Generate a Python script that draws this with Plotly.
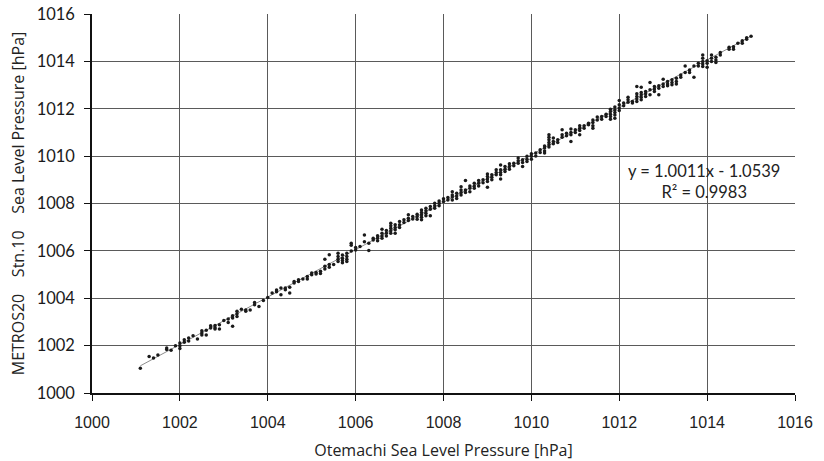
import plotly.graph_objects as go

# Otemachi pressure (x, hPa) for each column of observations
otemachi_hpa = [
    1001.1, 1001.3, 1001.4, 1001.5, 1001.7, 1001.8, 1001.9, 1002.0, 1002.1, 1002.2,
    1002.3, 1002.4, 1002.5, 1002.6, 1002.7, 1002.8, 1002.9, 1003.0, 1003.1, 1003.2,
    1003.3, 1003.4, 1003.5, 1003.6, 1003.7, 1003.8, 1003.9, 1004.0, 1004.1, 1004.2,
    1004.3, 1004.4, 1004.5, 1004.6, 1004.7, 1004.8, 1004.9, 1005.0, 1005.1, 1005.2,
    1005.3, 1005.4, 1005.5, 1005.6, 1005.7, 1005.8, 1005.9, 1006.0, 1006.1, 1006.2,
    1006.3, 1006.4, 1006.5, 1006.6, 1006.7, 1006.8, 1006.9, 1007.0, 1007.1, 1007.2,
    1007.3, 1007.4, 1007.5, 1007.6, 1007.7, 1007.8, 1007.9, 1008.0, 1008.1, 1008.2,
    1008.3, 1008.4, 1008.5, 1008.6, 1008.7, 1008.8, 1008.9, 1009.0, 1009.1, 1009.2,
    1009.3, 1009.4, 1009.5, 1009.6, 1009.7, 1009.8, 1009.9, 1010.0, 1010.1, 1010.2,
    1010.3, 1010.4, 1010.5, 1010.6, 1010.7, 1010.8, 1010.9, 1011.0, 1011.1, 1011.2,
    1011.3, 1011.4, 1011.5, 1011.6, 1011.7, 1011.8, 1011.9, 1012.0, 1012.1, 1012.2,
    1012.3, 1012.4, 1012.5, 1012.6, 1012.7, 1012.8, 1012.9, 1013.0, 1013.1, 1013.2,
    1013.3, 1013.4, 1013.5, 1013.6, 1013.7, 1013.8, 1013.9, 1014.0, 1014.1, 1014.2,
    1014.3, 1014.5, 1014.6, 1014.7, 1014.8, 1014.9, 1015.0,
]

# METROS20 Stn.10 pressure (y, hPa) observed at each Otemachi value above
metros_hpa = [
    [1001.05], [1001.54], [1001.48], [1001.60], [1001.90, 1001.84], [1001.81], [1002.00],
    [1002.11, 1002.00, 1001.88], [1002.25, 1002.14], [1002.32, 1002.20],
    [1002.42], [1002.28], [1002.63, 1002.53, 1002.45], [1002.65, 1002.45], [1002.84, 1002.74],
    [1002.85, 1002.75, 1002.70], [1002.88, 1002.70], [1003.06], [1003.12, 1002.98],
    [1003.26, 1003.17, 1002.82],
    [1003.45, 1003.35, 1003.23], [1003.54], [1003.50, 1003.45], [1003.50], [1003.82, 1003.73],
    [1003.65], [1003.91], [1004.03], [1004.22], [1004.35, 1004.27],
    [1004.43, 1004.15], [1004.43, 1004.36], [1004.46, 1004.22], [1004.71, 1004.64],
    [1004.78, 1004.71], [1004.81], [1004.92, 1004.81], [1005.07, 1004.99], [1005.09, 1005.02],
    [1005.14, 1005.04],
    [1005.65, 1005.35, 1005.24], [1005.84, 1005.42, 1005.31], [1005.42],
    [1005.90, 1005.76, 1005.65, 1005.55], [1005.83, 1005.69, 1005.59, 1005.50],
    [1005.90, 1005.76, 1005.65, 1005.55], [1006.32, 1006.24, 1006.00], [1006.14, 1006.04],
    [1006.18], [1006.67, 1006.39],
    [1006.32, 1006.02], [1006.53, 1006.46], [1006.64, 1006.53, 1006.43],
    [1006.91, 1006.74, 1006.63, 1006.53], [1006.86, 1006.74, 1006.63],
    [1007.17, 1007.06, 1006.96, 1006.85, 1006.74], [1007.10, 1006.99, 1006.89, 1006.74],
    [1007.24, 1007.10, 1006.99], [1007.31, 1007.20], [1007.52, 1007.38, 1007.28],
    [1007.45, 1007.35], [1007.55, 1007.45, 1007.34], [1007.73, 1007.62, 1007.52, 1007.42, 1007.31],
    [1007.80, 1007.69, 1007.59, 1007.48], [1007.87, 1007.76, 1007.48],
    [1008.01, 1007.90, 1007.80], [1008.11, 1008.01, 1007.90], [1008.20, 1008.08],
    [1008.25, 1008.15], [1008.50, 1008.36, 1008.27, 1008.15],
    [1008.43, 1008.32, 1008.21], [1008.71, 1008.57, 1008.46, 1008.36], [1008.97, 1008.57, 1008.46],
    [1008.74, 1008.64, 1008.50], [1008.85, 1008.74, 1008.64], [1008.97, 1008.86, 1008.74],
    [1009.00, 1008.88], [1009.25, 1009.14, 1009.03, 1008.93, 1008.69], [1009.21, 1009.11, 1009.00],
    [1009.42, 1009.31, 1009.21],
    [1009.63, 1009.42, 1009.31, 1009.21, 1009.03], [1009.56, 1009.45, 1009.35],
    [1009.68, 1009.56, 1009.45], [1009.70, 1009.59], [1009.92, 1009.81, 1009.70],
    [1009.85, 1009.73, 1009.56], [1009.99, 1009.87, 1009.77], [1010.10, 1009.99, 1009.87],
    [1010.13, 1010.01], [1010.27, 1010.15],
    [1010.43, 1010.34, 1010.22, 1010.13], [1010.90, 1010.80, 1010.69, 1010.58, 1010.48, 1010.38],
    [1010.76, 1010.62, 1010.52], [1010.69, 1010.58], [1011.11, 1010.90, 1010.80],
    [1010.97, 1010.86], [1011.14, 1011.00, 1010.90, 1010.62], [1011.11, 1011.00],
    [1011.28, 1011.18, 1011.08, 1010.90], [1011.28, 1011.18],
    [1011.39, 1011.32], [1011.53, 1011.42, 1011.28, 1011.18], [1011.65, 1011.53],
    [1011.67, 1011.56], [1011.77, 1011.67], [1011.98, 1011.88, 1011.77, 1011.67, 1011.56],
    [1012.07, 1011.95, 1011.84, 1011.74, 1011.60], [1012.35, 1012.17, 1012.03, 1011.93],
    [1012.24, 1012.13], [1012.49, 1012.38, 1012.27],
    [1012.31, 1012.24], [1012.94, 1012.63, 1012.52, 1012.41, 1012.31],
    [1012.91, 1012.69, 1012.59, 1012.49, 1012.38], [1012.73, 1012.63, 1012.52],
    [1013.11, 1012.80, 1012.59], [1012.94, 1012.83, 1012.73], [1012.97, 1012.87, 1012.59],
    [1013.25, 1013.05, 1012.94], [1013.15, 1013.05, 1012.97], [1013.22, 1013.11, 1013.01],
    [1013.29, 1013.15, 1013.05], [1013.43, 1013.33], [1013.81, 1013.53], [1013.64, 1013.53],
    [1013.81, 1013.33], [1013.92, 1013.81], [1014.27, 1014.13, 1013.99, 1013.89, 1013.78],
    [1014.03, 1013.92, 1013.75], [1014.27, 1014.13, 1013.99], [1014.17, 1014.06, 1013.95],
    [1014.37, 1014.27], [1014.60, 1014.51], [1014.62, 1014.51], [1014.76],
    [1014.87, 1014.76], [1015.00, 1014.93], [1015.06],
]

# Linear trendline reported on the chart
trend_slope = 1.0011
trend_intercept = -1.0539
trend_r2 = 0.9983

tick_values = [1000, 1002, 1004, 1006, 1008, 1010, 1012, 1014, 1016]

xs, ys = [], []
for xv, col in zip(otemachi_hpa, metros_hpa):
    for yv in col:
        xs.append(xv)
        ys.append(yv)

tx = [min(xs), max(xs)]
ty = [trend_slope * v + trend_intercept for v in tx]

fig = go.Figure()
fig.add_trace(go.Scatter(
    x=tx, y=ty, mode="lines",
    line=dict(color="#8c8c8c", width=1),
    showlegend=False, hoverinfo="skip",
))
fig.add_trace(go.Scatter(
    x=xs, y=ys, mode="markers",
    marker=dict(color="#1a1a1a", size=3.5, symbol="circle"),
    showlegend=False,
))

fig.add_annotation(
    x=1013.93, y=1008.92, xref="x", yref="y",
    text=f"y = {trend_slope}x - {abs(trend_intercept)}<br>R² = {trend_r2}",
    showarrow=False, align="center",
    font=dict(family="Lato", size=16.5, color="#222"),
)

axis_common = dict(
    tickvals=tick_values,
    ticks="outside", ticklen=6, tickcolor="#111", tickwidth=1,
    showgrid=True, gridcolor="#5a5a5a", gridwidth=1,
    zeroline=False, showline=True, linecolor="#111",
    automargin=False,
)

gap = "&nbsp;" * 4
fig.update_xaxes(
    range=[1000, 1016], linewidth=2, **axis_common,
    tickfont=dict(family="Liberation Sans", size=16, color="#222"),
    ticklabelstandoff=8,
    title=dict(text="Otemachi Sea Level Pressure [hPa]",
               font=dict(family="Open Sans", size=16, color="#222"), standoff=22),
)
fig.update_yaxes(
    range=[1000, 1016], linewidth=1.5, **axis_common,
    tickfont=dict(family="Lato", size=16.5, color="#1a1a1a"),
    ticklabelstandoff=6,
    title=dict(text=f"METROS20{gap}Stn.10{gap}Sea Level Pressure [hPa]",
               font=dict(family="Open Sans", size=16, color="#222"), standoff=8),
)

fig.update_layout(
    width=824, height=461,
    margin=dict(l=92, r=29, t=14, b=68),
    paper_bgcolor="white", plot_bgcolor="white",
)

fig.write_html(
    "out.html",
    config={"displayModeBar": False},
    post_script="document.body.style.margin='0';document.body.style.overflow='hidden';",
)
